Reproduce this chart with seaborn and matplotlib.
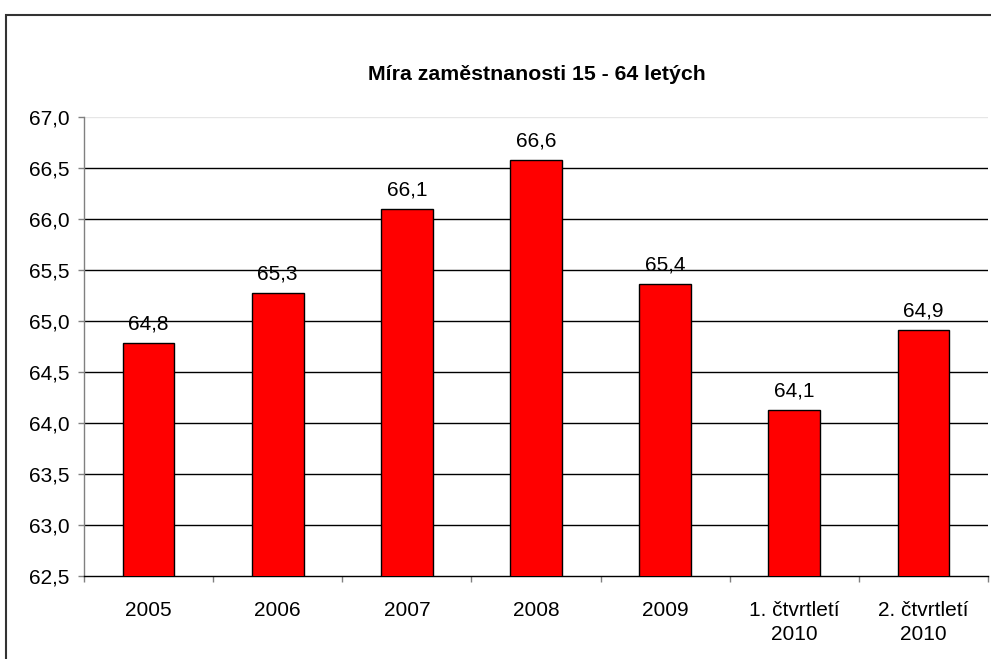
import matplotlib
matplotlib.use("Agg")
import matplotlib.pyplot as plt
import seaborn as sns
import pandas as pd
from matplotlib.patches import Rectangle

categories = ["2005", "2006", "2007", "2008", "2009", "1. čtvrtletí\n2010", "2. čtvrtletí\n2010"]
values = [64.78, 65.27, 66.10, 66.58, 65.36, 64.13, 64.91]
labels = ["64,8", "65,3", "66,1", "66,6", "65,4", "64,1", "64,9"]
yticks = [62.5, 63.0, 63.5, 64.0, 64.5, 65.0, 65.5, 66.0, 66.5, 67.0]
ytick_labels = ["62,5", "63,0", "63,5", "64,0", "64,5", "65,0", "65,5", "66,0", "66,5", "67,0"]
title = "Míra zaměstnanosti 15 - 64 letých"

sns.set_theme(style="white")
plt.rcParams["font.family"] = ["Liberation Sans", "DejaVu Sans"]

df = pd.DataFrame({"cat": categories, "val": values})

fig = plt.figure(figsize=(9.91, 6.59), dpi=100)
ax = fig.add_axes([84 / 991, 1 - 576 / 659, (988 - 84) / 991, (576 - 117) / 659])

# outer chart frame
fig.patches.append(Rectangle((5.5 / 991, -0.1), 1.2, 1 - 14.5 / 659 + 0.1,
                             transform=fig.transFigure, fill=False,
                             edgecolor="#333333", linewidth=1.5, zorder=0))

sns.barplot(data=df, x="cat", y="val", color="#ff0000", saturation=1,
            edgecolor="black", linewidth=1.0, width=0.4, ax=ax, zorder=3)

ax.set_ylim(62.5, 67.0)
ax.set_xlim(-0.5, len(categories) - 0.5)
ax.set_yticks(yticks)
ax.set_yticklabels(ytick_labels, fontsize=15, color="black")
ax.set_xticks(range(len(categories)))
ax.set_xticklabels(categories, fontsize=15, color="black", linespacing=1.35)
ax.set_xlabel("")
ax.set_ylabel("")

# gridlines
for y in yticks[1:-1]:
    ax.axhline(y, color="black", linewidth=1.0, zorder=1)
ax.axhline(67.0, color="#e6e6e6", linewidth=1.0, zorder=1)

# spines
for s in ["top", "right"]:
    ax.spines[s].set_visible(False)
ax.spines["left"].set_color("#808080")
ax.spines["left"].set_linewidth(1.0)
ax.spines["bottom"].set_color("black")
ax.spines["bottom"].set_linewidth(1.0)

# ticks
ax.tick_params(axis="y", which="both", left=True, length=4.3, width=1.0,
               color="#808080", pad=6)
ax.tick_params(axis="x", which="major", bottom=False, pad=12)
bounds = [i - 0.5 for i in range(len(categories) + 1)]
ax.set_xticks(bounds, minor=True)
ax.tick_params(axis="x", which="minor", bottom=True, length=4.3, width=1.0,
               color="#808080")

for i, (v, lab) in enumerate(zip(values, labels)):
    ax.annotate(lab, (i, v), xytext=(0, 7), textcoords="offset points",
                ha="center", va="bottom", fontsize=15, color="black", zorder=4)

fig.text(537 / 991, 1 - 75 / 659, title, ha="center", va="center",
         fontsize=15.3, fontweight="bold", color="black")

fig.savefig("out.png", dpi=100)
